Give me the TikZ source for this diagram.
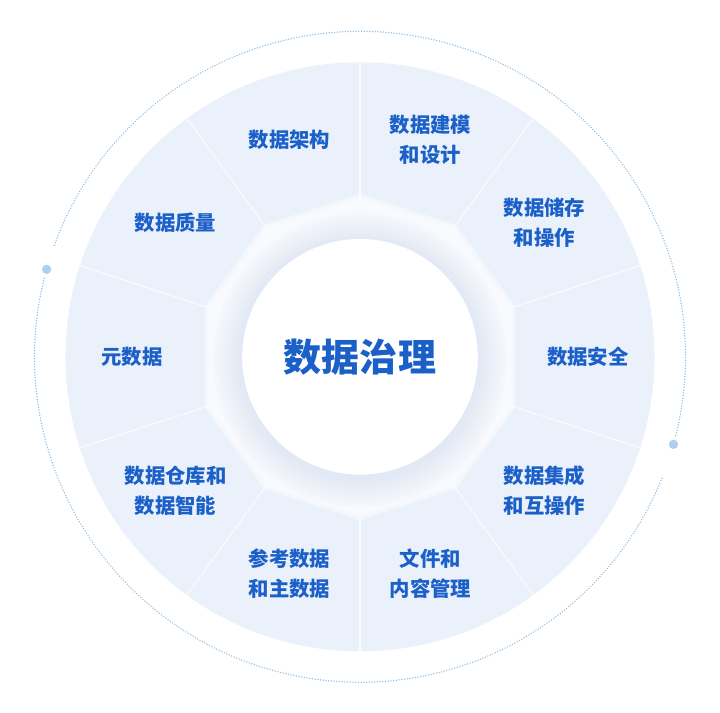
\documentclass[tikz,border=0pt]{standalone}
\usepackage{fontspec}
\newfontfamily\cjk{Noto Sans CJK SC}
\definecolor{diskblue}{RGB}{234,241,251}
\definecolor{ringblue}{RGB}{140,188,228}
\definecolor{textblue}{RGB}{27,95,200}
\definecolor{decawhite}{RGB}{248,250,254}
\definecolor{glow}{RGB}{196,208,232}
\tikzset{
	lbl/.style = {text = textblue, font = \cjk\bfseries\fontsize{30}{44}\selectfont, align = center},
	hub/.style = {text = textblue, font = \cjk\bfseries\fontsize{56}{60}\selectfont},
	ringdots/.style = {ringblue, line width = 2.2pt, dash pattern = on 0pt off 4pt, line cap = round},
}
\begin{document}
\begin{tikzpicture}
	\fill[white] (-18.1,-18) rectangle (17.9,18);
	% dotted outer ring with its two beads
	\draw[ringdots] (-14:16.85) arc (-14:160:16.85);
	\draw[ringdots] (166:16.85) arc (166:338.5:16.85);
	\fill[ringblue!70] (164.4:16.85) circle (0.24);
	\fill[ringblue!70] (-15.6:16.85) circle (0.24);
	% big disk and the ten sectors
	\fill[diskblue] (0,0) circle (15.25);
	\foreach \a in {90,126,...,414}
		\draw[white, line width = 1.8pt, opacity = 0.7] (0,0) -- (\a:15.25);
	% decagon
	\fill[white, opacity = 0.5] (90:8.45) \foreach \a in {126,162,...,414} { -- (\a:8.45) } -- cycle;
	\fill[decawhite] (90:8.25) \foreach \a in {126,162,...,414} { -- (\a:8.25) } -- cycle;
	% soft shadow round the hub
	\foreach \r in {7.6,7.4,...,6.1}
		\fill[glow, opacity = 0.055] (0,-0.15) circle (\r);
	\fill[white] (0,0) circle (6.1);
	\node[hub] (core) at (0,0) {数据治理};
	% sector labels
	\node[lbl] (arch) at (108:11.8) {数据架构};
	\node[lbl] (model) at (72:11.8) {数据建模\\和设计};
	\node[lbl] (store) at (36:11.8) {数据储存\\和操作};
	\node[lbl] (safe) at (0:11.8) {数据安全};
	\node[lbl] (integ) at (-36:11.8) {数据集成\\和互操作};
	\node[lbl] (docs) at (-72:11.8) {文件和\\内容管理};
	\node[lbl] (master) at (-108:11.8) {参考数据\\和主数据};
	\node[lbl] (dw) at (-144:11.8) {数据仓库和\\数据智能};
	\node[lbl] (meta) at (180:11.8) {元数据};
	\node[lbl] (quality) at (144:11.8) {数据质量};
\end{tikzpicture}
\end{document}
